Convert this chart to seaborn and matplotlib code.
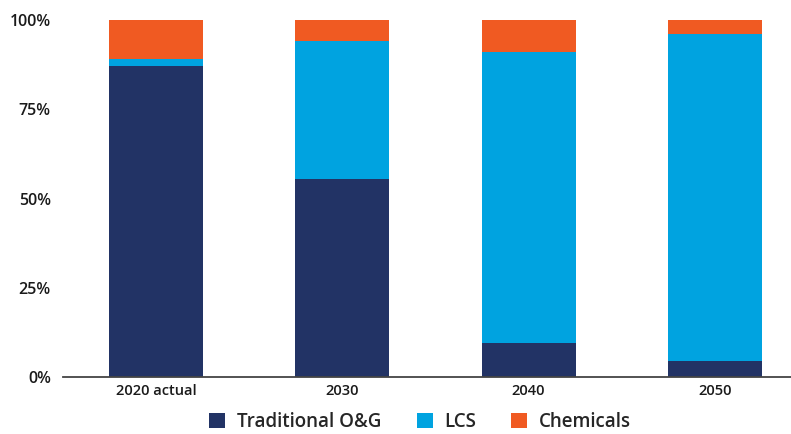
import matplotlib
matplotlib.use("Agg")
import matplotlib.pyplot as plt
import seaborn as sns
import pandas as pd
import numpy as np
from matplotlib.patches import Patch

categories = ["2020 actual", "2030", "2040", "2050"]
traditional = [87, 55.5, 9.5, 4.5]
lcs = [2, 38.5, 81.5, 91.5]
chemicals = [11, 6, 9, 4]
series_names = ["Traditional O&G", "LCS", "Chemicals"]
colors = ["#223365", "#00A3E0", "#F05A22"]
yticks = [0, 25, 50, 75, 100]
ytick_labels = ["0%", "25%", "50%", "75%", "100%"]

sns.set_theme(style="white")
plt.rcParams["font.family"] = ["Open Sans", "DejaVu Sans"]

fig = plt.figure(figsize=(7.91, 4.34), dpi=100)
ax = fig.add_axes([0.08, 0.131, 0.92, 0.823])

df = pd.DataFrame({"category": categories, "Traditional O&G": traditional,
                   "LCS": lcs, "Chemicals": chemicals})
bottoms = np.zeros(len(categories))
for name, col in zip(series_names, colors):
    sns.barplot(data=df, x="category", y=name, bottom=bottoms, color=col,
                width=0.505, ax=ax, saturation=1, linewidth=0)
    bottoms = bottoms + df[name].values

ax.set_ylim(0, 100)
ax.set_xlim(-0.5, 3.41)
ax.set_yticks(yticks)
ax.set_yticklabels(ytick_labels, fontsize=11.5, fontweight="semibold", color="#1a1a1a")
ax.set_xlabel("")
ax.set_ylabel("")
for lab in ax.get_xticklabels():
    lab.set_fontsize(10.5)
    lab.set_fontweight("semibold")
    lab.set_color("#1a1a1a")
ax.tick_params(axis="x", length=0, pad=5)
ax.tick_params(axis="y", length=0, pad=9)
for s in ["top", "right", "left"]:
    ax.spines[s].set_visible(False)
ax.spines["bottom"].set_color("#444444")
ax.spines["bottom"].set_linewidth(1.3)

handles = [Patch(facecolor=c, edgecolor="none", label=n) for n, c in zip(series_names, colors)]
fig.legend(handles=handles, loc="lower center", bbox_to_anchor=(0.531, 0.0), ncol=3,
           frameon=False, handlelength=0.85, handleheight=0.85,
           columnspacing=1.9, handletextpad=0.6, borderpad=0.0, borderaxespad=0.1,
           prop={"size": 13.5, "weight": "semibold", "family": ["Open Sans", "DejaVu Sans"]})

fig.savefig("out.png", dpi=100)
